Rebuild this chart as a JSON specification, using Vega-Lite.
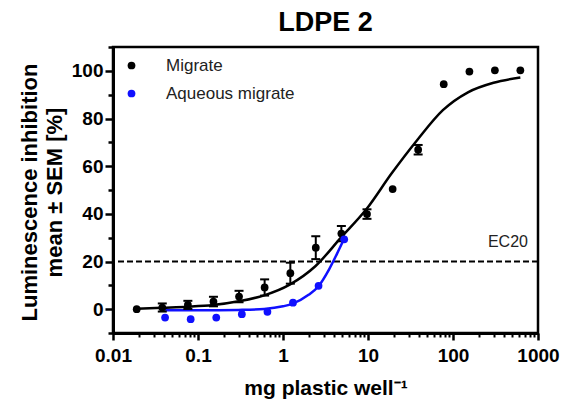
{
  "$schema": "https://vega.github.io/schema/vega-lite/v6.json",
  "width": 425,
  "height": 286,
  "autosize": "none",
  "padding": {"left": 113, "top": 47, "right": 34, "bottom": 84},
  "background": "white",
  "config": {
    "font": "Liberation Sans",
    "view": {"stroke": "black", "strokeWidth": 2.5},
    "axis": {"grid": false, "domainColor": "black", "tickColor": "black", "labelColor": "black", "titleColor": "black"}
  },
  "title": {"text": "LDPE 2", "fontSize": 27, "fontWeight": "bold", "font": "Liberation Sans", "anchor": "middle", "offset": 9, "color": "black"},
  "datasets": {
    "points": [
      {"x": 0.019, "y": 0, "series": "Migrate"},
      {"x": 0.038, "y": 0.7, "series": "Migrate"},
      {"x": 0.076, "y": 1.8, "series": "Migrate"},
      {"x": 0.152, "y": 3.2, "series": "Migrate"},
      {"x": 0.304, "y": 5.3, "series": "Migrate"},
      {"x": 0.608, "y": 9.1, "series": "Migrate"},
      {"x": 1.22, "y": 15.1, "series": "Migrate"},
      {"x": 2.43, "y": 25.8, "series": "Migrate"},
      {"x": 4.86, "y": 31.7, "series": "Migrate"},
      {"x": 9.73, "y": 39.9, "series": "Migrate"},
      {"x": 19.5, "y": 50.4, "series": "Migrate"},
      {"x": 38.9, "y": 66.9, "series": "Migrate"},
      {"x": 77.8, "y": 94.4, "series": "Migrate"},
      {"x": 156, "y": 99.7, "series": "Migrate"},
      {"x": 311, "y": 100.2, "series": "Migrate"},
      {"x": 620, "y": 100.2, "series": "Migrate"},
      {"x": 0.041, "y": -3.5, "series": "Aqueous migrate"},
      {"x": 0.082, "y": -4.2, "series": "Aqueous migrate"},
      {"x": 0.164, "y": -3.5, "series": "Aqueous migrate"},
      {"x": 0.328, "y": -2.1, "series": "Aqueous migrate"},
      {"x": 0.656, "y": -1.1, "series": "Aqueous migrate"},
      {"x": 1.31, "y": 2.7, "series": "Aqueous migrate"},
      {"x": 2.62, "y": 9.8, "series": "Aqueous migrate"},
      {"x": 5.25, "y": 29.3, "series": "Aqueous migrate"}
    ],
    "errors": [
      {"x": 0.038, "lo": -1.0, "hi": 2.4},
      {"x": 0.076, "lo": 0.1, "hi": 3.5},
      {"x": 0.152, "lo": 1.2, "hi": 5.2},
      {"x": 0.304, "lo": 2.9, "hi": 7.7},
      {"x": 0.608, "lo": 5.7, "hi": 12.5},
      {"x": 1.22, "lo": 10.7, "hi": 19.5},
      {"x": 2.43, "lo": 21.0, "hi": 30.6},
      {"x": 4.86, "lo": 28.5, "hi": 34.9},
      {"x": 9.73, "lo": 37.9, "hi": 41.9},
      {"x": 38.9, "lo": 64.9, "hi": 68.9}
    ],
    "curves": [
      {"x": 0.019, "y": 0.2, "series": "Migrate"},
      {"x": 0.038, "y": 0.6, "series": "Migrate"},
      {"x": 0.076, "y": 1.0, "series": "Migrate"},
      {"x": 0.15, "y": 1.7, "series": "Migrate"},
      {"x": 0.3, "y": 3.3, "series": "Migrate"},
      {"x": 0.6, "y": 5.8, "series": "Migrate"},
      {"x": 1.2, "y": 10.3, "series": "Migrate"},
      {"x": 2.4, "y": 18.0, "series": "Migrate"},
      {"x": 4.8, "y": 30.0, "series": "Migrate"},
      {"x": 9.6, "y": 42.0, "series": "Migrate"},
      {"x": 19, "y": 57.0, "series": "Migrate"},
      {"x": 38, "y": 71.0, "series": "Migrate"},
      {"x": 76, "y": 83.5, "series": "Migrate"},
      {"x": 150, "y": 91.0, "series": "Migrate"},
      {"x": 300, "y": 95.0, "series": "Migrate"},
      {"x": 620, "y": 97.2, "series": "Migrate"},
      {"x": 0.041, "y": -0.5, "series": "Aqueous migrate"},
      {"x": 0.1, "y": -0.5, "series": "Aqueous migrate"},
      {"x": 0.3, "y": -0.3, "series": "Aqueous migrate"},
      {"x": 0.6, "y": 0.1, "series": "Aqueous migrate"},
      {"x": 1.0, "y": 1.2, "series": "Aqueous migrate"},
      {"x": 1.3, "y": 2.3, "series": "Aqueous migrate"},
      {"x": 2.0, "y": 6.0, "series": "Aqueous migrate"},
      {"x": 2.6, "y": 9.5, "series": "Aqueous migrate"},
      {"x": 3.5, "y": 16.8, "series": "Aqueous migrate"},
      {"x": 4.3, "y": 23.1, "series": "Aqueous migrate"},
      {"x": 5.25, "y": 29.6, "series": "Aqueous migrate"}
    ],
    "ref": [{"y": 20}],
    "label": [{"x": 762, "y": 28.2, "text": "EC20"}]
  },
  "resolve": {"axis": {"x": "independent", "y": "independent"}},
  "layer": [
    {
      "data": {"name": "ref"},
      "mark": {"type": "rule", "strokeDash": [6, 3], "strokeWidth": 2, "color": "black"},
      "encoding": {
        "y": {"field": "y", "type": "quantitative", "scale": {"domain": [-10, 110], "nice": false, "zero": false}, "axis": null}
      }
    },
    {
      "data": {"name": "curves"},
      "transform": [{"filter": "datum.series == 'Migrate'"}],
      "mark": {"type": "line", "strokeWidth": 2.5, "interpolate": "monotone", "color": "#000000"},
      "encoding": {
        "x": {"field": "x", "type": "quantitative", "scale": {"type": "log", "domain": [0.01, 1000], "nice": false},
          "axis": {"orient": "bottom", "title": "mg plastic well⁻¹", "values": [0.01, 0.1, 1, 10, 100, 1000],
            "labelExpr": "datum.value < 0.05 ? '0.01' : datum.value < 0.5 ? '0.1' : format(datum.value, 'd')",
            "tickSize": 7, "tickWidth": 2.5, "domainWidth": 3, "labelFontSize": 19, "labelFontWeight": "bold",
            "labelPadding": 6, "labelFlush": false, "labelOverlap": false, "titleFontSize": 21, "titleFontWeight": "bold", "titlePadding": 12}},
        "y": {"field": "y", "type": "quantitative", "scale": {"domain": [-10, 110], "nice": false, "zero": false},
          "axis": {"orient": "left", "title": ["Luminescence inhibition", "mean ± SEM [%]"], "values": [0, 20, 40, 60, 80, 100],
            "tickSize": 8, "tickWidth": 2.5, "domainWidth": 3, "labelFontSize": 19, "labelFontWeight": "bold", "labelPadding": 2,
            "titleFontSize": 22, "titleFontWeight": "bold", "titleLineHeight": 25, "titleAngle": -90,
            "titleX": -77, "titleY": 145, "titleBaseline": "alphabetic", "titleAlign": "center"}}
      }
    },
    {
      "data": {"name": "curves"},
      "transform": [{"filter": "datum.series == 'Aqueous migrate'"}],
      "mark": {"type": "line", "strokeWidth": 2.5, "interpolate": "monotone", "color": "#1010ff"},
      "encoding": {
        "x": {"field": "x", "type": "quantitative", "axis": null},
        "y": {"field": "y", "type": "quantitative", "axis": null}
      }
    },
    {
      "data": {"name": "errors"},
      "mark": {"type": "errorbar", "color": "black", "opacity": 1, "thickness": 2, "rule": {"color": "black", "opacity": 1, "strokeWidth": 2}, "ticks": {"size": 9, "thickness": 2, "color": "black", "opacity": 1}},
      "encoding": {
        "x": {"field": "x", "type": "quantitative", "axis": null},
        "y": {"field": "lo", "type": "quantitative", "axis": null},
        "y2": {"field": "hi"}
      }
    },
    {
      "data": {"name": "points"},
      "mark": {"type": "point", "filled": true, "size": 60, "opacity": 1, "strokeWidth": 0},
      "encoding": {
        "x": {"field": "x", "type": "quantitative", "axis": null},
        "y": {"field": "y", "type": "quantitative", "axis": null},
        "color": {"field": "series", "type": "nominal", "sort": null,
          "scale": {"domain": ["Migrate", "Aqueous migrate"], "range": ["#000000", "#1010ff"]},
          "legend": {"title": null, "orient": "none", "legendX": 10, "legendY": 10, "symbolType": "circle", "symbolSize": 60,
            "symbolStrokeWidth": 0, "labelFontSize": 17, "labelOffset": 26, "rowPadding": 10, "padding": 0, "labelColor": "#222222"}}
      }
    },
    {
      "data": {"name": "label"},
      "mark": {"type": "text", "align": "right", "baseline": "middle", "fontSize": 16, "color": "#222222"},
      "encoding": {
        "x": {"field": "x", "type": "quantitative",
          "axis": {"orient": "bottom", "title": null, "labels": false, "domain": false, "tickSize": 4, "tickWidth": 2,
            "values": [0.02, 0.03, 0.04, 0.05, 0.06, 0.07, 0.08, 0.09, 0.2, 0.3, 0.4, 0.5, 0.6, 0.7, 0.8, 0.9, 2, 3, 4, 5, 6, 7, 8, 9, 20, 30, 40, 50, 60, 70, 80, 90, 200, 300, 400, 500, 600, 700, 800, 900]}},
        "y": {"field": "y", "type": "quantitative",
          "axis": {"orient": "left", "title": null, "labels": false, "domain": false, "tickSize": 5, "tickWidth": 2.5,
            "values": [-10, 10, 30, 50, 70, 90, 110]}},
        "text": {"field": "text"}
      }
    }
  ]
}
